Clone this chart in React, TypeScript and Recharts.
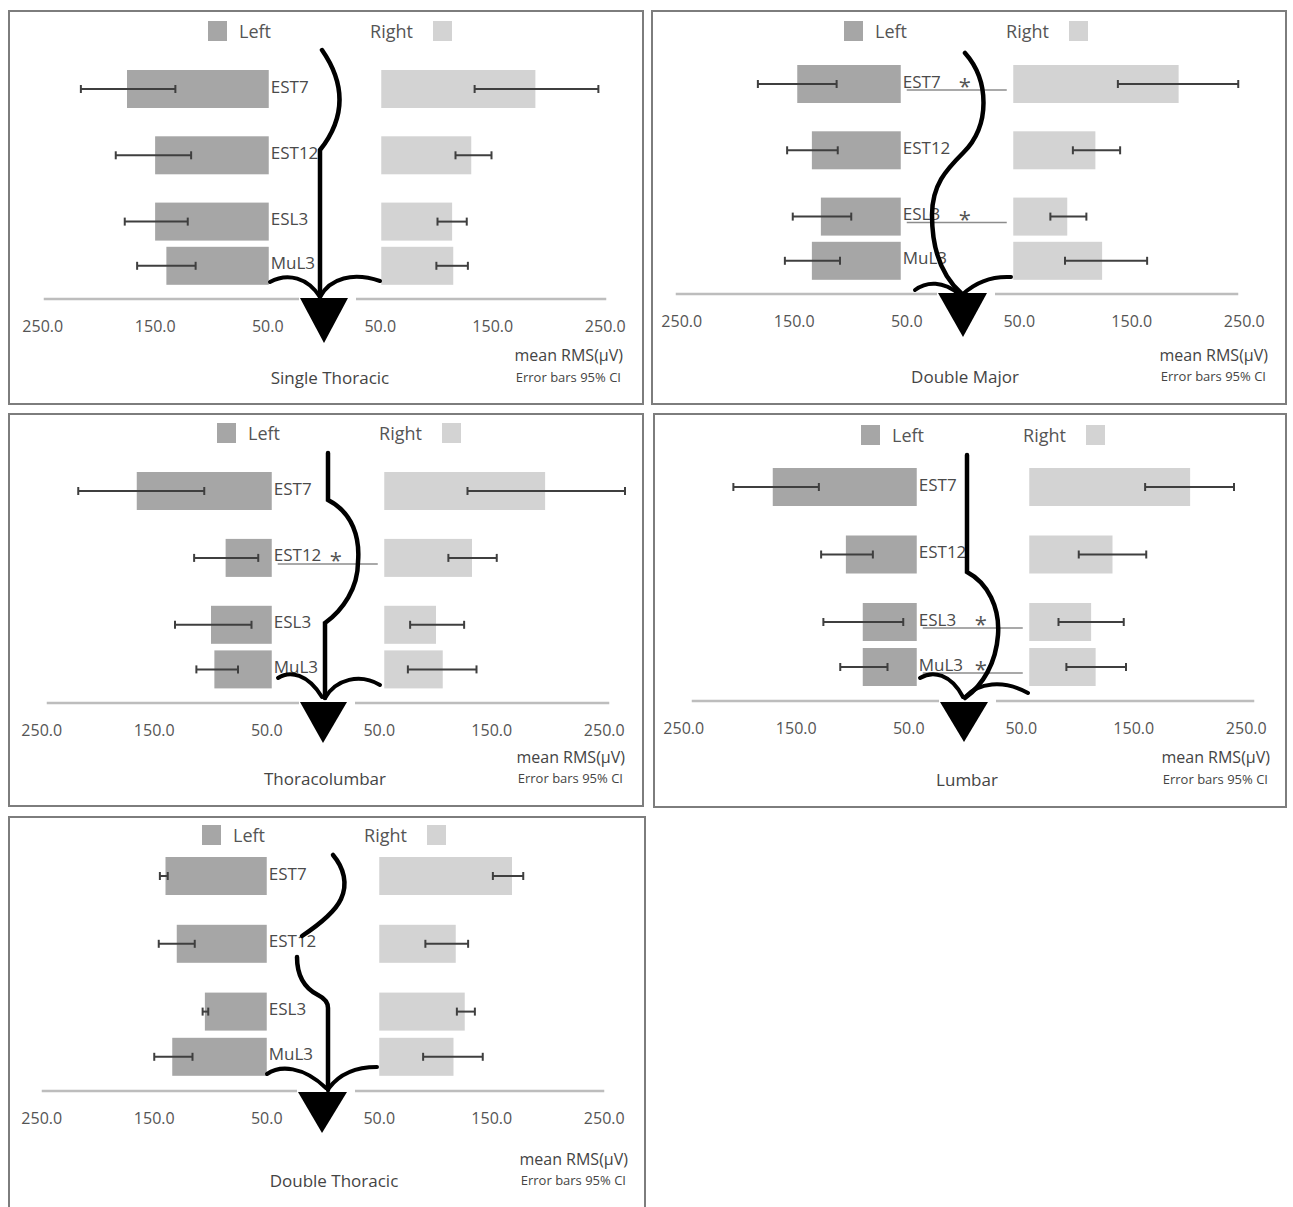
import React from "react";
import { BarChart, Bar, XAxis, YAxis, ErrorBar, LabelList } from "recharts";

const CATEGORIES = ["EST7", "EST12", "ESL3", "MuL3"];
// band slot of each muscle (ESL3 and MuL3 sit next to each other)
const SLOT_OF = [0, 3, 6, 8];
const SLOT_COUNT = 10;
const BASE = 50;
const TICKS = [-250, -150, -50, 50, 150, 250];

// Single Thoracic
const stLeft = [176, 151, 151, 141];
const stLeftCI = [[133, 217], [119, 186], [122, 178], [115, 167]];
const stRight = [187, 130, 113, 114];
const stRightCI = [[133, 243], [116, 148], [100, 126], [99, 127]];

// Double Major
const dmLeft = [142, 129, 121, 129];
const dmLeftCI = [[107, 177], [106, 151], [94, 146], [104, 153]];
const dmRight = [197, 123, 98, 129];
const dmRightCI = [[143, 250], [103, 145], [83, 115], [96, 169]];
const dmSig = ["EST7", "ESL3"];

// Thoracolumbar
const tlLeft = [170, 91, 104, 101];
const tlLeftCI = [[110, 222], [62, 119], [68, 136], [80, 117]];
const tlRight = [193, 128, 96, 102];
const tlRightCI = [[124, 264], [107, 150], [73, 121], [71, 132]];
const tlSig = ["EST12"];

// Lumbar
const luLeft = [178, 113, 98, 98];
const luLeftCI = [[137, 213], [89, 135], [62, 133], [76, 118]];
const luRight = [193, 124, 105, 109];
const luRightCI = [[153, 232], [94, 154], [76, 134], [83, 136]];
const luSig = ["ESL3", "MuL3"];

// Double Thoracic
const dtLeft = [140, 130, 105, 134];
const dtLeftCI = [[138, 145], [114, 146], [102, 107], [116, 150]];
const dtRight = [168, 118, 126, 116];
const dtRightCI = [[151, 178], [91, 129], [119, 135], [89, 142]];

const LEFT_FILL = "#a6a6a6";
const RIGHT_FILL = "#d3d3d3";
const ERR_COLOR = "#3f3f3f";
const BAR_H = 38;
const HALF = 250 * 1.125;
const CHART_H = 345;
const XAXIS_H = 30;

type Panel = {
  title: string;
  left: number[];
  leftCI: number[][];
  right: number[];
  rightCI: number[][];
  sig: string[];
  box: number[];
  cx: number;
  plotTop: number;
  plotBottom: number;
  tickDx: number;
  legendX: number;
  legendY: number;
  titleX: number;
  textY: number;
  unitX: number;
  unitY: number;
  spine: string[];
  ribs: string[];
  tri: number[]; // x0, x1, top, tipX, tipY
};

const PANELS: Panel[] = [
  {
    title: "Single Thoracic", left: stLeft, leftCI: stLeftCI, right: stRight, rightCI: stRightCI, sig: [],
    box: [8, 10, 636, 395], cx: 317, plotTop: 68, plotBottom: 289, tickDx: -1,
    legendX: 200, legendY: 11, titleX: 322, textY: 367, unitX: 615, unitY: 345,
    spine: ["M314,40 Q350,92 312,140 L312,287"],
    ribs: ["M262,272 C280,262 300,268 312,287", "M312,287 C322,268 345,262 372,271"],
    tri: [292, 340, 288, 316, 333],
  },
  {
    title: "Double Major", left: dmLeft, leftCI: dmLeftCI, right: dmRight, rightCI: dmRightCI, sig: dmSig,
    box: [651, 10, 636, 395], cx: 306, plotTop: 63, plotBottom: 284, tickDx: 6,
    legendX: 193, legendY: 11, titleX: 314, textY: 366, unitX: 617, unitY: 345,
    spine: ["M314,43 C338,70 340,115 312,143 C295,160 281,175 281,205 C281,240 290,265 310,283"],
    ribs: ["M264,280 C276,271 292,271 308,284", "M312,284 C325,272 342,266 360,267"],
    tri: [287, 336, 283, 312, 327],
  },
  {
    title: "Thoracolumbar", left: tlLeft, leftCI: tlLeftCI, right: tlRight, rightCI: tlRightCI, sig: tlSig,
    box: [8, 413, 636, 394], cx: 320, plotTop: 67, plotBottom: 290, tickDx: -5,
    legendX: 209, legendY: 10, titleX: 317, textY: 365, unitX: 617, unitY: 344,
    spine: ["M320,40 L320,87 C345,100 352,125 350,149 C350,175 335,197 317,210 L317,285"],
    ribs: ["M270,265 C282,257 300,261 314,284", "M317,285 C328,266 352,260 372,272"],
    tri: [292, 339, 289, 315, 330],
  },
  {
    title: "Lumbar", left: luLeft, leftCI: luLeftCI, right: luRight, rightCI: luRightCI, sig: luSig,
    box: [653, 413, 634, 395], cx: 320, plotTop: 63, plotBottom: 288, tickDx: -8,
    legendX: 208, legendY: 12, titleX: 314, textY: 366, unitX: 617, unitY: 344,
    spine: ["M314,42 L314,159 C335,170 347,195 345,222 C343,250 330,272 312,285"],
    ribs: ["M267,265 C280,257 298,261 310,284", "M312,284 C325,270 350,266 375,280"],
    tri: [287, 335, 289, 311, 329],
  },
  {
    title: "Double Thoracic", left: dtLeft, leftCI: dtLeftCI, right: dtRight, rightCI: dtRightCI, sig: [],
    box: [8, 816, 638, 395], cx: 315, plotTop: 49, plotBottom: 275, tickDx: 0,
    legendX: 194, legendY: 9, titleX: 326, textY: 364, unitX: 620, unitY: 343,
    spine: [
      "M325,39 C336,52 340,68 333,83 C327,96 312,108 294,120",
      "M289,141 C289,160 296,172 310,179 C316,182 320,186 320,192 L320,274",
    ],
    ribs: ["M259,258 C272,249 295,250 318,272", "M321,272 C333,256 350,251 369,251"],
    tri: [290, 339, 276, 314, 317],
  },
];

function buildRows(p: Panel) {
  const rows: any[] = Array.from({ length: SLOT_COUNT }, (_, i) => ({ key: "slot" + i, name: "" }));
  CATEGORIES.forEach((c, i) => {
    const r = rows[SLOT_OF[i]];
    r.name = c;
    r.left = [-BASE, -p.left[i]];
    r.leftErr = [p.leftCI[i][1] - p.left[i], p.left[i] - p.leftCI[i][0]];
    r.right = [BASE, p.right[i]];
    r.rightErr = [p.right[i] - p.rightCI[i][0], p.rightCI[i][1] - p.right[i]];
  });
  return rows;
}

const BarShape = (props: any) => {
  const { x, y, width, height, fill } = props;
  if (![x, y, width, height].every(Number.isFinite) || width === 0) return null;
  const cy = y + height / 2;
  return <rect x={Math.min(x, x + width)} y={cy - BAR_H / 2} width={Math.abs(width)} height={BAR_H} fill={fill} />;
};

function rowLabel(sig: string[]) {
  return (props: any) => {
    const vb = props.viewBox || props;
    const { x, y, width, height } = vb;
    const name = props.value;
    if (!name || ![x, y, width, height].every(Number.isFinite)) return null;
    const baseX = Math.max(x, x + width);
    const cy = y + height / 2;
    const starred = sig.includes(name);
    return (
      <g>
        <text x={baseX + 2} y={cy - 3} dominantBaseline="central" fontSize={17} fill="#4a4a4a">
          {name}
        </text>
        {starred && (
          <g>
            <line x1={baseX + 6} x2={baseX + 106} y1={cy + 6} y2={cy + 6} stroke="#8c8c8c" strokeWidth={1.5} />
            <text x={baseX + 64} y={cy + 10} textAnchor="middle" fontSize={22} fill="#555">
              *
            </text>
          </g>
        )}
      </g>
    );
  };
}

function Overlay({ p }: { p: Panel }) {
  const [w, h] = [p.box[2], p.box[3]];
  const [x0, x1, top, tipX, tipY] = p.tri;
  return (
    <svg width={w} height={h} style={{ position: "absolute", left: 0, top: 0, pointerEvents: "none" }}>
      <rect x={p.legendX} y={p.legendY} width={19} height={20} fill={LEFT_FILL} />
      <text x={p.legendX + 31} y={p.legendY + 10} dominantBaseline="central" fontSize={18} fill="#555">
        Left
      </text>
      <text x={p.legendX + 205} y={p.legendY + 10} dominantBaseline="central" textAnchor="end" fontSize={18} fill="#555">
        Right
      </text>
      <rect x={p.legendX + 225} y={p.legendY} width={19} height={20} fill={RIGHT_FILL} />

      <rect x={x0 - 1} y={top - 4} width={x1 - x0 + 9} height={8} fill="#fff" />
      <polygon points={`${x0},${top} ${x1},${top} ${tipX},${tipY}`} fill="#000" />
      {p.spine.map((d, i) => (
        <path key={"s" + i} d={d} fill="none" stroke="#000" strokeWidth={4.5} strokeLinecap="round" />
      ))}
      {p.ribs.map((d, i) => (
        <path key={"r" + i} d={d} fill="none" stroke="#000" strokeWidth={4} strokeLinecap="round" />
      ))}

      <text x={p.unitX} y={p.unitY} textAnchor="end" dominantBaseline="central" fontSize={16} fill="#444">
        mean RMS(μV)
      </text>
      <text x={p.unitX - 2} y={p.textY} textAnchor="end" dominantBaseline="central" fontSize={13} fill="#444">
        Error bars 95% CI
      </text>
      <text x={p.titleX} y={p.textY} textAnchor="middle" dominantBaseline="central" fontSize={17} fill="#444">
        {p.title}
      </text>
    </svg>
  );
}

function PanelChart({ p }: { p: Panel }) {
  const [left, top, w, h] = p.box;
  const rows = buildRows(p);
  return (
    <div style={{ position: "absolute", left, top, width: w, height: h }}>
      <div
        style={{
          position: "absolute", left: 0, top: 0, width: w, height: h,
          boxSizing: "border-box", border: "2px solid #7d7d7d", background: "#fff",
        }}
      />
      <div style={{ position: "absolute", left: 0, top: 0 }}>
        <BarChart
          width={w}
          height={CHART_H}
          data={rows}
          layout="vertical"
          barGap={-10}
          margin={{
            top: p.plotTop,
            bottom: CHART_H - p.plotBottom - XAXIS_H,
            left: p.cx - HALF,
            right: w - p.cx - HALF,
          }}
        >
          <XAxis
            type="number"
            domain={[-250, 250]}
            allowDataOverflow
            ticks={TICKS}
            tickFormatter={(v: number) => Math.abs(v).toFixed(1)}
            axisLine={{ stroke: "#bdbdbd", strokeWidth: 2.5 }}
            tickLine={false}
            tick={{ fill: "#555", fontSize: 16, dx: p.tickDx }}
            tickMargin={16}
            height={XAXIS_H}
          />
          <YAxis type="category" dataKey="key" hide />
          <Bar dataKey="left" fill={LEFT_FILL} barSize={10} shape={BarShape} isAnimationActive={false}>
            <ErrorBar dataKey="leftErr" direction="x" width={4} stroke={ERR_COLOR} strokeWidth={2} />
            <LabelList dataKey="name" content={rowLabel(p.sig)} />
          </Bar>
          <Bar dataKey="right" fill={RIGHT_FILL} barSize={10} shape={BarShape} isAnimationActive={false}>
            <ErrorBar dataKey="rightErr" direction="x" width={4} stroke={ERR_COLOR} strokeWidth={2} />
          </Bar>
        </BarChart>
      </div>
      <Overlay p={p} />
    </div>
  );
}

export default function App() {
  return (
    <div
      style={{
        position: "absolute", left: 0, top: 0, width: 1293, height: 1207, overflow: "hidden",
        background: "#fff", fontFamily: "'Open Sans', 'Noto Sans', sans-serif",
      }}
    >
      {PANELS.map((p) => (
        <PanelChart key={p.title} p={p} />
      ))}
    </div>
  );
}
